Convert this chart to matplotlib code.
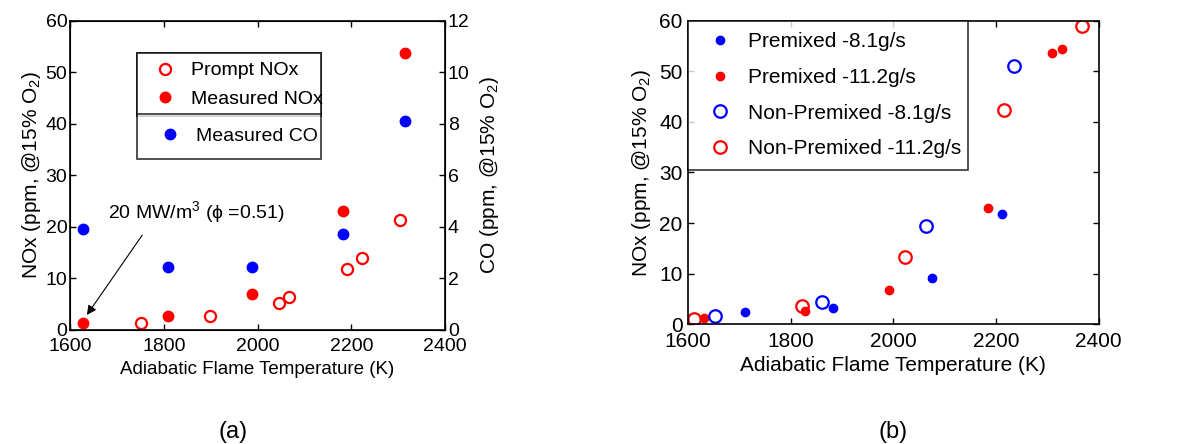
import matplotlib.pyplot as plt

plt.rcParams['font.family'] = ['Liberation Sans', 'DejaVu Sans']
plt.rcParams['mathtext.fontset'] = 'custom'
plt.rcParams['mathtext.rm'] = 'Liberation Sans'
plt.rcParams['mathtext.it'] = 'Liberation Sans:italic'

# --- panel (a): NOx and CO vs flame temperature ---
meas_T = [1628, 1808, 1989, 2182, 2315]
meas_nox = [1.4, 2.7, 6.9, 23.0, 53.7]
meas_co = [3.92, 2.43, 2.43, 3.74, 8.12]
prompt_T = [1752, 1898, 2046, 2068, 2190, 2223, 2304]
prompt_nox = [1.4, 2.7, 5.3, 6.3, 11.8, 13.9, 21.3]

# --- panel (b): premixed vs non-premixed ---
pm81_T = [1711, 1882, 2076, 2212]
pm81_nox = [2.4, 3.2, 9.2, 21.7]
pm112_T = [1631, 1827, 1992, 2185, 2309, 2328]
pm112_nox = [1.25, 2.6, 6.7, 23.0, 53.7, 54.4]
npm81_T = [1653, 1862, 2064, 2236]
npm81_nox = [1.7, 4.35, 19.45, 51.1]
npm112_T = [1611, 1822, 2023, 2215, 2367]
npm112_nox = [1.05, 3.56, 13.3, 42.3, 59.0]

RED = '#ff0000'
BLUE = '#0000ff'

fig = plt.figure(figsize=(11.87, 4.44), dpi=100)


def style_axes(ax, fs, xpad, ypad):
    ax.tick_params(direction='in', length=4, width=1, labelsize=fs,
                   top=True, right=True)
    ax.tick_params(axis='x', pad=xpad)
    ax.tick_params(axis='y', pad=ypad)
    for s in ax.spines.values():
        s.set_linewidth(1.2)


def box_legend(ax, handles, anchor, fs, **kw):
    leg = ax.legend(handles=handles, loc='upper left', bbox_to_anchor=anchor,
                    mode='expand', fontsize=fs, frameon=True, fancybox=False,
                    edgecolor='black', borderaxespad=0, **kw)
    leg.get_frame().set_linewidth(1.2)
    return leg


# (a)
FS_A = 14
ax1 = fig.add_axes([0.059, 0.257, 0.316, 0.696])
h_prompt, = ax1.plot(prompt_T, prompt_nox, 'o', mfc='none', mec=RED, mew=1.6,
                     ms=8, label='Prompt NOx')
h_meas, = ax1.plot(meas_T, meas_nox, 'o', color=RED, ms=7.5,
                   label='Measured NOx')
ax1.set_xlim(1600, 2400)
ax1.set_ylim(0, 60)
ax1.set_xticks([1600, 1800, 2000, 2200, 2400])
ax1.set_yticks(range(0, 61, 10))
style_axes(ax1, FS_A, 6, 2)
ax1.tick_params(right=False)
ax1.set_xlabel('Adiabatic Flame Temperature (K)', fontsize=13.5, labelpad=4)
ax1.set_ylabel('NOx (ppm, @15% O$_2$)', fontsize=15, labelpad=2)

ax1b = ax1.twinx()
h_co, = ax1b.plot(meas_T, meas_co, 'o', color=BLUE, ms=7.5,
                  label='Measured CO')
ax1b.set_ylim(0, 12)
ax1b.set_yticks(range(0, 13, 2))
ax1b.tick_params(direction='in', length=4, width=1, labelsize=FS_A, pad=2)
ax1b.set_ylabel('CO (ppm, @15% O$_2$)', fontsize=15, labelpad=6)

leg1 = box_legend(ax1, [h_prompt, h_meas], (0.179, 0.896, 0.49, 0.0), FS_A,
                  handletextpad=0.3, borderpad=0.45, labelspacing=0.55,
                  handlelength=2.0)
ax1.add_artist(leg1)
box_legend(ax1b, [h_co], (0.179, 0.699, 0.49, 0.0), FS_A,
           handletextpad=0.3, borderpad=0.7, handlelength=2.0)

ax1.text(1681, 22.9, '20 MW/m$^3$ (ϕ =0.51)', fontsize=FS_A,
         ha='left', va='center')
ax1.annotate('', xy=(1636, 2.9), xytext=(1754, 18.4),
             arrowprops=dict(arrowstyle='-|>', color='black', lw=0.8,
                             shrinkA=0, shrinkB=0, mutation_scale=14))
fig.text(0.196, 0.027, '(a)', fontsize=17, ha='center', va='center')

# (b)
FS_B = 15
ax2 = fig.add_axes([0.5796, 0.270, 0.346, 0.683])
h1, = ax2.plot(pm81_T, pm81_nox, 'o', color=BLUE, ms=6,
               label='Premixed -8.1g/s')
h2, = ax2.plot(pm112_T, pm112_nox, 'o', color=RED, ms=6,
               label='Premixed -11.2g/s')
h3, = ax2.plot(npm81_T, npm81_nox, 'o', mfc='none', mec=BLUE, mew=1.6, ms=9,
               label='Non-Premixed -8.1g/s')
h4, = ax2.plot(npm112_T, npm112_nox, 'o', mfc='none', mec=RED, mew=1.6, ms=9,
               label='Non-Premixed -11.2g/s')
ax2.set_xlim(1600, 2400)
ax2.set_ylim(0, 60)
ax2.set_xticks([1600, 1800, 2000, 2200, 2400])
ax2.set_yticks(range(0, 61, 10))
style_axes(ax2, FS_B, 6, 4)
ax2.set_xlabel('Adiabatic Flame Temperature (K)', fontsize=FS_B, labelpad=3)
ax2.set_ylabel('NOx (ppm, @15% O$_2$)', fontsize=15, labelpad=4)
box_legend(ax2, [h1, h2, h3, h4], (0.0, 1.0, 0.681, 0.0), FS_B,
           handletextpad=0.31, borderpad=0.55, labelspacing=0.8,
           handlelength=2.0)
fig.text(0.752, 0.027, '(b)', fontsize=17, ha='center', va='center')

fig.savefig('out.png', dpi=100)
